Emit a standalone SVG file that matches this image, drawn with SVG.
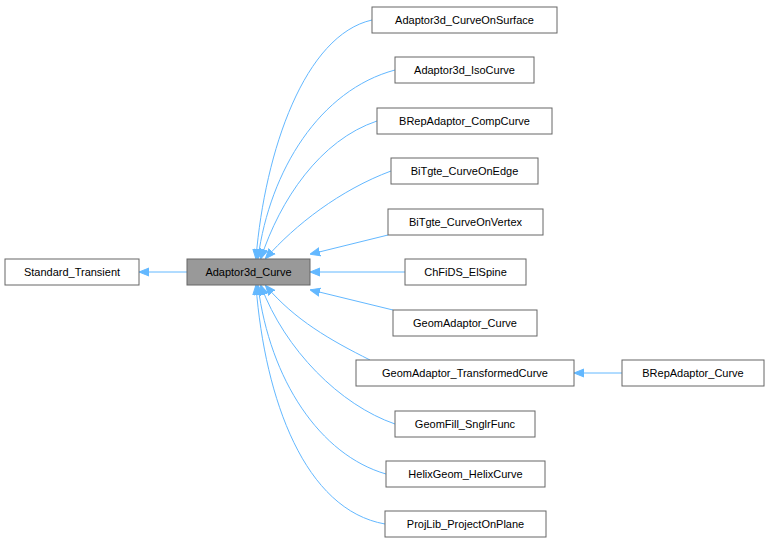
<svg xmlns="http://www.w3.org/2000/svg" width="769" height="544" viewBox="0 0 769 544">
<style>
.n rect{fill:#fff;stroke:#666;stroke-width:1}
.n text{font-family:"Liberation Sans",Arial,sans-serif;font-size:11px;fill:#000;text-anchor:middle}
#edges path{fill:none;stroke:#63b8ff;stroke-width:1;marker-end:url(#a)}
</style>
<defs>
<marker id="a" viewBox="0 0 10 10" refX="9" refY="5" markerWidth="10" markerHeight="10" markerUnits="userSpaceOnUse" orient="auto">
<path d="M0,1 L10,5 L0,9 Z" fill="#63b8ff" stroke="#63b8ff"/>
</marker>
</defs>
<rect width="769" height="544" fill="#fff"/>
<g id="edges">
<path d="M187,272 L140,272"/>
<path d="M372,20 C305,35 265,150 256,258"/>
<path d="M395,70 C320,90 270,170 258,258"/>
<path d="M377,121 C320,140 280,200 261,258"/>
<path d="M391,171 C340,190 295,225 266,258"/>
<path d="M388,235 L311,254"/>
<path d="M405,272 L311,272"/>
<path d="M393,310 L311,290"/>
<path d="M370,360 C330,340 295,320 266,286"/>
<path d="M395,424 C340,405 285,350 261,286"/>
<path d="M386,474 C320,455 270,380 258,286"/>
<path d="M385,524 C305,510 265,400 256,286"/>
<path d="M622,373 L575,373"/>
</g>
<g id="Standard_Transient" class="n"><rect x="5" y="259" width="134" height="26"/><text x="72" y="276">Standard_Transient</text></g>
<g id="Adaptor3d_Curve" class="n"><rect x="187" y="259" width="123" height="26" style="fill:#999"/><text x="248.5" y="276">Adaptor3d_Curve</text></g>
<g id="Adaptor3d_CurveOnSurface" class="n"><rect x="372" y="7" width="185" height="26"/><text x="464.5" y="24">Adaptor3d_CurveOnSurface</text></g>
<g id="Adaptor3d_IsoCurve" class="n"><rect x="395" y="57" width="139" height="26"/><text x="464.5" y="74">Adaptor3d_IsoCurve</text></g>
<g id="BRepAdaptor_CompCurve" class="n"><rect x="377" y="108" width="175" height="26"/><text x="464.5" y="125">BRepAdaptor_CompCurve</text></g>
<g id="BiTgte_CurveOnEdge" class="n"><rect x="391" y="158" width="147" height="26"/><text x="464.5" y="175">BiTgte_CurveOnEdge</text></g>
<g id="BiTgte_CurveOnVertex" class="n"><rect x="388" y="209" width="155" height="26"/><text x="465.5" y="226">BiTgte_CurveOnVertex</text></g>
<g id="ChFiDS_ElSpine" class="n"><rect x="405" y="259" width="121" height="26"/><text x="465.5" y="276">ChFiDS_ElSpine</text></g>
<g id="GeomAdaptor_Curve" class="n"><rect x="393" y="310" width="144" height="26"/><text x="465" y="327">GeomAdaptor_Curve</text></g>
<g id="GeomAdaptor_TransformedCurve" class="n"><rect x="356" y="360" width="218" height="26"/><text x="465" y="377">GeomAdaptor_TransformedCurve</text></g>
<g id="GeomFill_SnglrFunc" class="n"><rect x="395" y="411" width="140" height="26"/><text x="465" y="428">GeomFill_SnglrFunc</text></g>
<g id="HelixGeom_HelixCurve" class="n"><rect x="386" y="461" width="159" height="26"/><text x="465.5" y="478">HelixGeom_HelixCurve</text></g>
<g id="ProjLib_ProjectOnPlane" class="n"><rect x="385" y="511" width="161" height="26"/><text x="465.5" y="528">ProjLib_ProjectOnPlane</text></g>
<g id="BRepAdaptor_Curve" class="n"><rect x="622" y="360" width="142" height="26"/><text x="693" y="377">BRepAdaptor_Curve</text></g>
</svg>
